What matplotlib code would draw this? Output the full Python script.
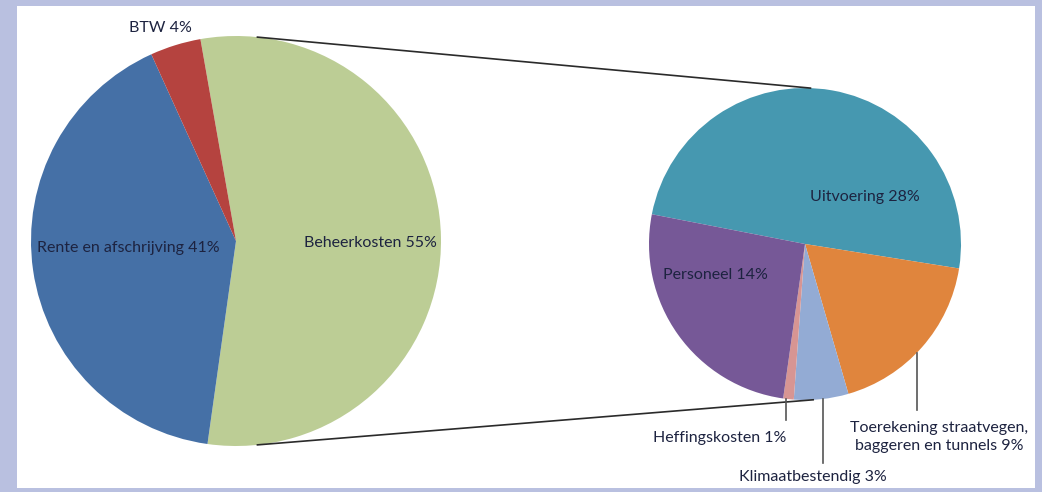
import numpy as np
import matplotlib
matplotlib.use('Agg')
import matplotlib.pyplot as plt
from matplotlib.patches import Rectangle

# Left pie: total costs
main_labels = ['Beheerkosten', 'Rente en afschrijving', 'BTW']
main_values = [55, 41, 4]
main_colors = ['#bccd95', '#4570a6', '#b5433f']

# Right pie: breakdown of Beheerkosten (wedge sizes as drawn, labels as printed)
sub_labels = ['Uitvoering', 'Toerekening straatvegen,\nbaggeren en tunnels',
              'Klimaatbestendig', 'Heffingskosten', 'Personeel']
sub_values = [27.2, 9.9, 3.1, 0.6, 14.2]
sub_pct = [28, 9, 3, 1, 14]
sub_colors = ['#4698b0', '#e0853d', '#93abd4', '#d79593', '#765897']

W, H = 1042, 492
plt.rcParams['font.family'] = ['Lato', 'DejaVu Sans']
txt = '#1d2340'

fig = plt.figure(figsize=(W / 100, H / 100), dpi=100, facecolor='#b9c0e0')
ax = fig.add_axes([0, 0, 1, 1])
ax.set_facecolor('none')
# white panel inside the lavender frame
ax.add_patch(Rectangle((17, 4), 1018, 482, facecolor='white', edgecolor='none', zorder=-5))

# pie geometry (pixels, y measured from bottom)
c1, r1 = (236, H - 241), 205
c2, r2 = (805, H - 244), 156

ax.pie(main_values, colors=main_colors, center=c1, radius=r1, startangle=100,
       counterclock=False, frame=True, wedgeprops=dict(linewidth=0))
ax.pie(sub_values, colors=sub_colors, center=c2, radius=r2, startangle=169,
       counterclock=False, frame=True, wedgeprops=dict(linewidth=0))


def on_circle(c, r, deg):
    a = np.radians(deg)
    return c[0] + r * np.cos(a), c[1] + r * np.sin(a)


# connectors between the pies
for a1, a2 in [(84, 88), (-84, -87)]:
    p, q = on_circle(c1, r1, a1), on_circle(c2, r2, a2)
    ax.plot([p[0], q[0]], [p[1], q[1]], color='#2a2a2a', lw=1.2)

# leader lines from bottom of right pie to labels
for lx, bottom in [(786, 420), (823, 463), (917, 410)]:
    ey = c2[1] - np.sqrt(r2 ** 2 - (lx - c2[0]) ** 2)
    ax.plot([lx, lx], [ey, H - bottom], color='#555555', lw=1.2)

fs = 11.5
ax.text(160, H - 28, f'{main_labels[2]} {main_values[2]}%', ha='center', va='center', fontsize=fs, color=txt)
ax.text(128, H - 248, f'{main_labels[1]} {main_values[1]}%', ha='center', va='center', fontsize=fs, color=txt)
ax.text(370, H - 243, f'{main_labels[0]} {main_values[0]}%', ha='center', va='center', fontsize=fs, color=txt)
ax.text(865, H - 197, f'{sub_labels[0]} {sub_pct[0]}%', ha='center', va='center', fontsize=fs, color=txt)
ax.text(715, H - 275, f'{sub_labels[4]} {sub_pct[4]}%', ha='center', va='center', fontsize=fs, color=txt)
ax.text(720, H - 438, f'{sub_labels[3]} {sub_pct[3]}%', ha='center', va='center', fontsize=fs, color=txt)
ax.text(813, H - 477, f'{sub_labels[2]} {sub_pct[2]}%', ha='center', va='center', fontsize=fs, color=txt)
ax.text(939, H - 437, f'{sub_labels[1]} {sub_pct[1]}%', ha='center', va='center', fontsize=fs,
        color=txt, linespacing=1.35)

ax.set_xlim(0, W)
ax.set_ylim(0, H)
ax.set_aspect('equal')
ax.axis('off')
fig.savefig('out.png', dpi=100, facecolor=fig.get_facecolor())
